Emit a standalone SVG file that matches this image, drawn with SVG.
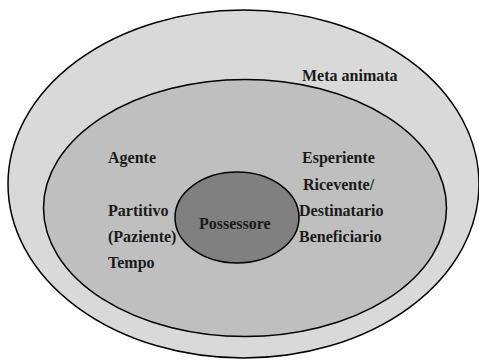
<svg xmlns="http://www.w3.org/2000/svg" width="479" height="360" viewBox="0 0 479 360">
<style>
.e{stroke:#000;stroke-width:1.5}
text{font-family:"Liberation Serif","Times New Roman",serif;font-weight:bold;font-size:16px;fill:#1a1a1a}
</style>
<rect width="479" height="360" fill="#fff"/>
<g id="outer"><ellipse class="e" cx="243.5" cy="184" rx="235.5" ry="174" fill="#d9d9d9"/><text x="302" y="81">Meta animata</text></g>
<g id="middle"><ellipse class="e" cx="245" cy="208" rx="201.5" ry="128.5" fill="#bfbfbf"/>
<text x="108" y="163">Agente</text>
<text x="108" y="216">Partitivo</text>
<text x="108" y="242">(Paziente)</text>
<text x="108" y="268">Tempo</text>
<text x="302" y="163">Esperiente</text>
<text x="303" y="190">Ricevente/</text>
<text x="299" y="216">Destinatario</text>
<text x="299" y="242">Beneficiario</text>
</g>
<g id="inner"><ellipse class="e" cx="237" cy="217.5" rx="62" ry="45.5" fill="#808080"/><text x="199" y="229">Possessore</text></g>
<g id="connectors"/>
</svg>
